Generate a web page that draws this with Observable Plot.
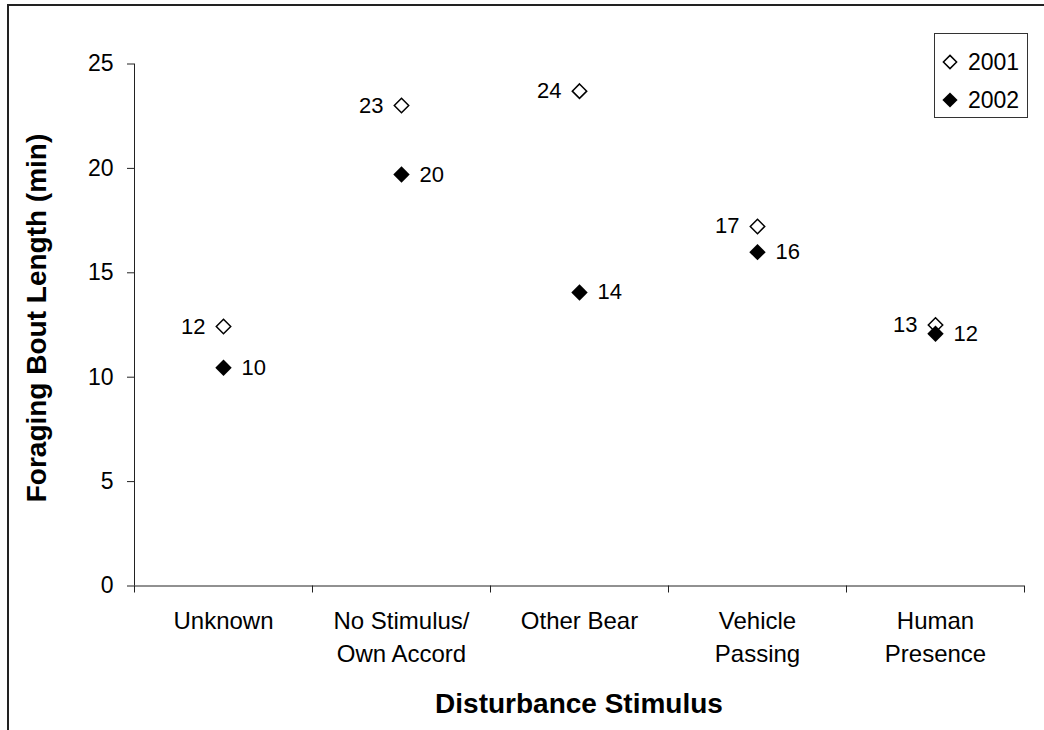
<!DOCTYPE html>
<html><head><meta charset="utf-8">
<script src="https://cdn.jsdelivr.net/npm/d3@7"></script>
<script src="https://cdn.jsdelivr.net/npm/@observablehq/plot@0.6"></script>
<style>
html,body{margin:0;padding:0;background:#fff;}
#wrap{position:relative;width:1044px;height:730px;overflow:hidden;font-family:"Liberation Sans",Arial,sans-serif;color:#000;}
#chart{position:absolute;left:0;top:0;}
#frame{position:absolute;left:7px;top:4px;width:1100px;height:800px;border-left:2px solid #222;border-top:2px solid #222;pointer-events:none;}
.title{position:absolute;font-weight:bold;font-size:28px;line-height:28px;white-space:nowrap;}
#xtitle{left:579px;top:690px;transform:translateX(-50%);}
#ytitle{left:37px;top:318px;transform:translate(-50%,-50%) rotate(-90deg);}
#legend{position:absolute;left:934px;top:33px;}
</style>
</head><body>
<div id="wrap">
  <div id="chart"></div>
  <div id="frame"></div>
  <div class="title" id="xtitle">Disturbance Stimulus</div>
  <div class="title" id="ytitle">Foraging Bout Length (min)</div>
  <div id="legend"></div>
</div>
<script>
const categories = ["Unknown", "No Stimulus/\nOwn Accord", "Other Bear", "Vehicle\nPassing", "Human\nPresence"];
const years = ["2001", "2002"];
const values2001 = [12.43, 23.01, 23.70, 17.22, 12.5];
const values2002 = [10.45, 19.71, 14.06, 15.99, 12.08];
const yTicks = [0, 5, 10, 15, 20, 25];

const rows2001 = categories.map((c, i) => ({cat: c, pos: i + 0.5, v: values2001[i], year: years[0]}));
const rows2002 = categories.map((c, i) => ({cat: c, pos: i + 0.5, v: values2002[i], year: years[1]}));
const fmt = d3.format(".0f");

const chart = Plot.plot({
  width: 1044,
  height: 730,
  marginLeft: 134,
  marginRight: 20,
  marginTop: 63.5,
  marginBottom: 144.5,
  style: {fontFamily: '"Liberation Sans", Arial, sans-serif', color: "#000", background: "transparent", overflow: "visible"},
  x: {domain: [0, categories.length]},
  y: {domain: [0, 25]},
  marks: [
    Plot.ruleX([0], {stroke: "#222", strokeWidth: 1}),
    Plot.ruleY([0], {stroke: "#222", strokeWidth: 1}),
    Plot.axisY({ticks: yTicks, tickSize: 7, tickPadding: 14, fontSize: 23, label: null, stroke: "#222"}),
    Plot.axisX({ticks: d3.range(categories.length + 1), tickSize: 7, tickFormat: () => "", label: null, stroke: "#222"}),
    Plot.axisX({ticks: categories.map((c, i) => i + 0.5), tickSize: 0, tickPadding: 19, tickFormat: d => categories[Math.floor(d)], fontSize: 24, lineHeight: 1.38, label: null}),
    Plot.dot(rows2001, {x: "pos", y: "v", symbol: "diamond2", r: 6.5, fill: "white", stroke: "black", strokeWidth: 1.5}),
    Plot.dot(rows2002, {x: "pos", y: "v", symbol: "diamond2", r: 7.4, fill: "black"}),
    Plot.text(rows2001, {x: "pos", y: "v", text: d => fmt(d.v), textAnchor: "end", dx: -18, fontSize: 22}),
    Plot.text(rows2002, {x: "pos", y: "v", text: d => fmt(d.v), textAnchor: "start", dx: 18, fontSize: 22})
  ]
});
document.getElementById("chart").appendChild(chart);

// legend
const lg = d3.select("#legend").append("svg").attr("width", 95).attr("height", 86);
lg.append("rect").attr("x", 0.5).attr("y", 0.5).attr("width", 93).attr("height", 84).attr("fill", "white").attr("stroke", "#333").attr("stroke-width", 1);
years.forEach((yr, i) => {
  const cy = 29 + i * 38;
  const h = i === 0 ? 6.6 : 7.6;
  lg.append("path")
    .attr("d", `M16,${cy - h}L${16 + h},${cy}L16,${cy + h}L${16 - h},${cy}Z`)
    .attr("fill", i === 0 ? "white" : "black")
    .attr("stroke", i === 0 ? "black" : "none")
    .attr("stroke-width", 1.5);
  lg.append("text").attr("x", 34).attr("y", cy + 8).attr("font-size", 23)
    .attr("font-family", '"Liberation Sans", Arial, sans-serif').text(yr);
});
</script>
</body></html>
